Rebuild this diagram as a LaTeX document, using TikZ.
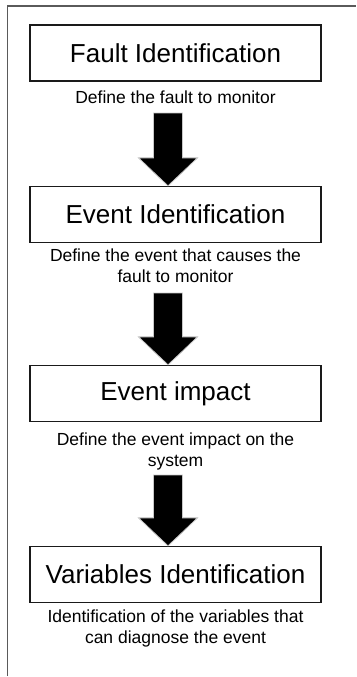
\documentclass[tikz,border=0pt]{standalone}
\usepackage{fontspec}
\setmainfont{Liberation Sans}
\usetikzlibrary{calc}

\definecolor{flowcolor0000}{RGB}{90,90,90}
\definecolor{flowcolor0001}{RGB}{26,26,26}
\definecolor{flowcolor0002}{RGB}{0,0,0}
\definecolor{flowcolor0003}{RGB}{200,200,200}

\begin{document}
\begin{tikzpicture}[yscale=-1,x=1pt,y=1pt
                ,pstyle1/.style={color=flowcolor0000,line width=1.2pt}
                ,pstyle2/.style={draw=flowcolor0001,fill=white,line width=1.3pt,minimum width=291pt,minimum height=56pt,inner sep=0pt,font=\fontsize{26}{31}\selectfont}
                ,pstyle3/.style={align=center,inner sep=0pt,color=black,font=\fontsize{17.5}{21}\selectfont}
                ,pstyle4/.style={fill=flowcolor0002,draw=flowcolor0003,line width=0.8pt,line join=miter}
            ]
            \useasboundingbox (0,0) rectangle (356,677);
            \draw[pstyle1] (7.5,676) -- (7.5,6) -- (356,6);
            \node[pstyle2] (fault) at (175.5,53) {Fault Identification};
            \node[pstyle3] (faultdesc) at (175.5,97) {Define the fault to monitor};
            \node[pstyle2] (event) at (175.5,214.5) {Event Identification};
            \node[pstyle3] (eventdesc) at (175.5,265.5) {Define the event that causes the\\fault to monitor};
            \node[pstyle2] (impact) at (175.5,393.5) {Event impact};
            \node[pstyle3] (impactdesc) at (175.5,451.5) {Define the event impact on the\\system};
            \node[pstyle2] (vars) at (175.5,574.5) {Variables Identification};
            \node[pstyle3] (varsdesc) at (175.5,628.5) {Identification of the variables that\\can diagnose the event};
            \coordinate (a1) at (168,113);
            \coordinate (a2) at (168,293);
            \coordinate (a3) at (168,475);
            \draw[pstyle4] (event.north -| a1) -- ++(-29.5,-28) -- ++(15,0) -- ($(a1)+(-14.5,0)$) -- ($(a1)+(14.5,0)$) -- ($(event.north -| a1)+(14.5,-28)$) -- ++(15,0) -- cycle;
            \draw[pstyle4] (impact.north -| a2) -- ++(-29.5,-28) -- ++(15,0) -- ($(a2)+(-14.5,0)$) -- ($(a2)+(14.5,0)$) -- ($(impact.north -| a2)+(14.5,-28)$) -- ++(15,0) -- cycle;
            \draw[pstyle4] (vars.north -| a3) -- ++(-29.5,-28) -- ++(15,0) -- ($(a3)+(-14.5,0)$) -- ($(a3)+(14.5,0)$) -- ($(vars.north -| a3)+(14.5,-28)$) -- ++(15,0) -- cycle;
        \end{tikzpicture}
\end{document}
